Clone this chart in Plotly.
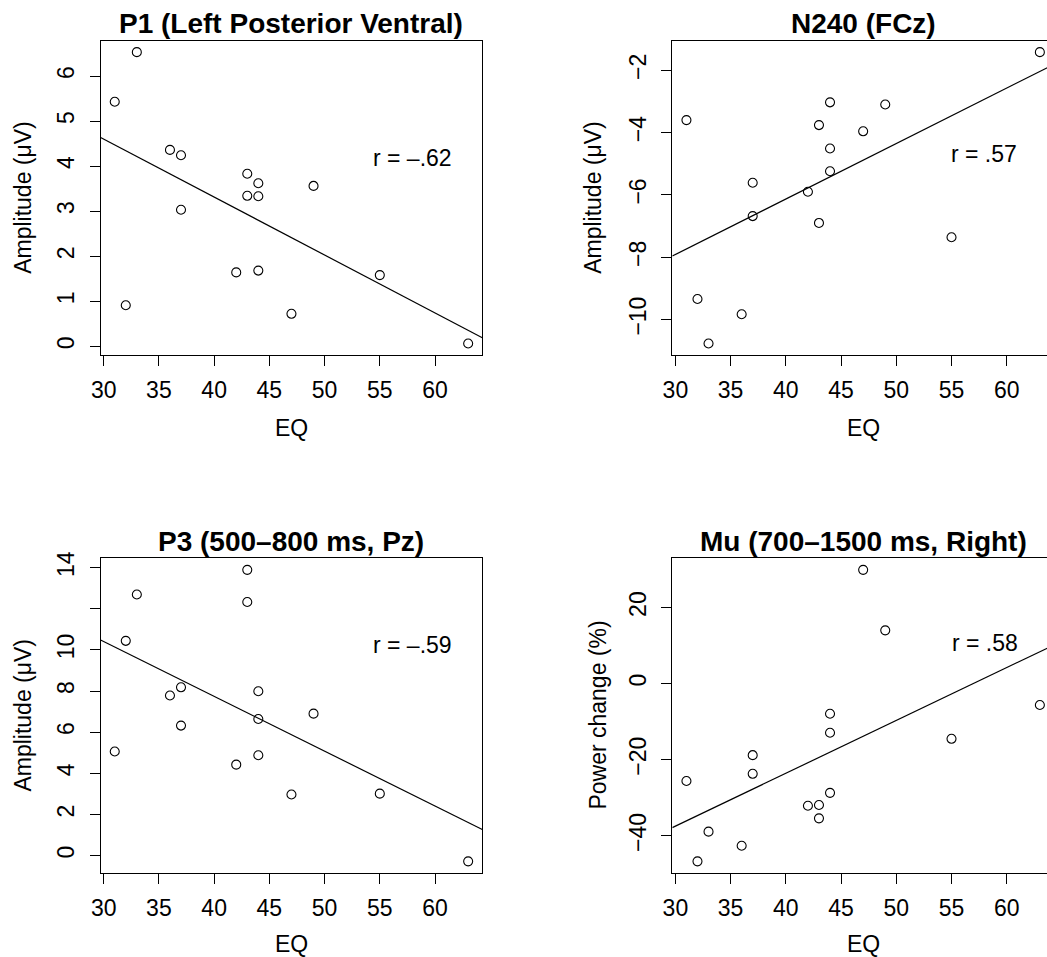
import numpy as np
import plotly.graph_objects as go

# Empathy quotient score of each participant (shared by all four panels)
eq = [31, 32, 33, 36, 37, 37, 42, 43, 43, 44, 44, 44, 47, 49, 55, 63]

# Per-panel measures, same participant order as `eq`
p1_amp = [5.43, 0.91, 6.53, 4.36, 4.24, 3.03, 1.64, 3.83, 3.34, 3.62, 3.33, 1.68, 0.72, 3.56, 1.58, 0.06]
n240_amp = [-3.60, -9.34, -10.77, -9.83, -5.61, -6.68, -5.90, -3.76, -6.90, -3.03, -4.51, -5.24, -3.96, -3.10, -7.36, -1.42]
p3_amp = [5.06, 10.44, 12.69, 7.78, 8.18, 6.32, 4.42, 13.89, 12.33, 7.99, 6.64, 4.88, 2.97, 6.90, 3.01, -0.28]
mu_power = [-25.6, -46.7, -38.9, -42.6, -18.8, -23.7, -32.1, -31.9, -35.4, -7.9, -12.9, -28.7, 29.9, 14.0, -14.5, -5.6]

titles = ["P1 (Left Posterior Ventral)", "N240 (FCz)", "P3 (500–800 ms, Pz)", "Mu (700–1500 ms, Right)"]
y_titles = ["Amplitude (μV)", "Amplitude (μV)", "Amplitude (μV)", "Power change (%)"]
r_labels = ["r = –.62", "r = .57", "r = –.59", "r = .58"]
x_title = "EQ"

x_ticks = [30, 35, 40, 45, 50, 55, 60]
y_ticks = [
    [0, 1, 2, 3, 4, 5, 6],
    [-10, -8, -6, -4, -2],
    [0, 2, 4, 6, 8, 10, 12, 14],
    [-40, -20, 0, 20],
]
y_tick_text = [
    ["0", "1", "2", "3", "4", "5", "6"],
    ["−10", "−8", "−6", "−4", "−2"],
    ["0", "2", "4", "6", "8", "10", "", "14"],
    ["−40", "−20", "0", "20"],
]
panels = [p1_amp, n240_amp, p3_amp, mu_power]

# ---- layout geometry (pixels in a 1047 x 957 canvas) ----
W, H = 1047, 957
FONT = "Liberation Sans, Arial, Helvetica, sans-serif"
BASE = 23
TITLE = 28

# plot boxes: (left, top, right, bottom) in px; right-hand boxes run off the canvas edge
boxes = [
    (100.6, 40.5, 482.3, 355.2),
    (672.3, 40.5, W, 355.2),
    (100.6, 558.2, 482.3, 873.0),
    (672.3, 558.2, W, 873.0),
]
full_box_w = 482.3 - 100.6
# label anchor positions
title_y = [23, 23, 541, 541]
xtitle_y = [428, 428, 944, 944]
ytitle_x = [23, 593, 23, 598]
r_pos = [(58.0, 4.17), (57.9, -4.70), (58.0, 10.23), (58.0, 10.65)]


def px(x):
    return x / W


def py(y):
    return 1 - y / H


def padded(lo, hi, f=0.04):
    span = hi - lo
    return lo - f * span, hi + f * span


fig = go.Figure()
annotations = []

x_lo, x_hi = padded(min(eq), max(eq))
px_per_unit = full_box_w / (x_hi - x_lo)

for i, vals in enumerate(panels):
    left, top, right, bottom = boxes[i]
    sfx = "" if i == 0 else str(i + 1)
    xa, ya = "x" + sfx, "y" + sfx

    # visible x-range (the right column is cut by the canvas edge)
    xr_hi = x_lo + (right - left) / px_per_unit
    y_lo, y_hi = padded(min(vals), max(vals))

    fig.add_trace(go.Scatter(
        x=eq, y=vals, mode="markers", xaxis=xa, yaxis=ya,
        marker=dict(symbol="circle-open", size=9, color="black", line=dict(width=1.1, color="black")),
        showlegend=False, hoverinfo="skip",
    ))

    # least-squares line across the full plotting region
    slope, icpt = np.polyfit(eq, vals, 1)
    lx = np.array([x_lo, x_lo + full_box_w / px_per_unit])
    fig.add_trace(go.Scatter(
        x=lx, y=slope * lx + icpt, mode="lines", xaxis=xa, yaxis=ya,
        line=dict(color="black", width=1.2), showlegend=False, hoverinfo="skip",
    ))

    left_col = i in (0, 2)
    fig.update_layout(**{
        "xaxis" + sfx: dict(
            domain=[px(left), px(right)], anchor=ya, range=[x_lo, xr_hi],
            tickvals=x_ticks, showgrid=False, zeroline=False, automargin=False,
            showline=True, mirror=True, linecolor="black", linewidth=1.2,
            ticks="outside", ticklen=10, tickwidth=1.2, tickcolor="black",
            tickfont=dict(family=FONT, size=BASE, color="black"),
            ticklabelstandoff=4,
        ),
        "yaxis" + sfx: dict(
            domain=[py(bottom), py(top)], anchor=xa, range=[y_lo, y_hi],
            tickvals=y_ticks[i], ticktext=y_tick_text[i], tickangle=-90,
            showgrid=False, zeroline=False, automargin=False,
            showline=True, mirror=left_col, linecolor="black", linewidth=1.2,
            ticks="outside", ticklen=10, tickwidth=1.2, tickcolor="black",
            tickfont=dict(family=FONT, size=BASE, color="black"),
            ticklabelstandoff=6,
        ),
    })

    cx = left + full_box_w / 2
    annotations.append(dict(
        text="<b>" + titles[i] + "</b>", x=px(cx), y=py(title_y[i]), xref="paper", yref="paper",
        showarrow=False, xanchor="center", yanchor="middle",
        font=dict(family=FONT, size=TITLE, color="black"),
    ))
    annotations.append(dict(
        text=x_title, x=px(cx), y=py(xtitle_y[i]), xref="paper", yref="paper",
        showarrow=False, xanchor="center", yanchor="middle",
        font=dict(family=FONT, size=BASE, color="black"),
    ))
    annotations.append(dict(
        text=y_titles[i], x=px(ytitle_x[i]), y=py((top + bottom) / 2), xref="paper", yref="paper",
        showarrow=False, xanchor="center", yanchor="middle", textangle=-90,
        font=dict(family=FONT, size=BASE, color="black"),
    ))
    annotations.append(dict(
        text=r_labels[i], x=r_pos[i][0], y=r_pos[i][1], xref=xa, yref=ya,
        showarrow=False, xanchor="center", yanchor="middle",
        font=dict(family=FONT, size=BASE, color="black"),
    ))

fig.update_layout(
    template="none",
    width=W, height=H, autosize=False,
    margin=dict(l=0, r=0, t=0, b=0, pad=0),
    paper_bgcolor="white", plot_bgcolor="white",
    annotations=annotations,
)

fig.write_html("out.html")
